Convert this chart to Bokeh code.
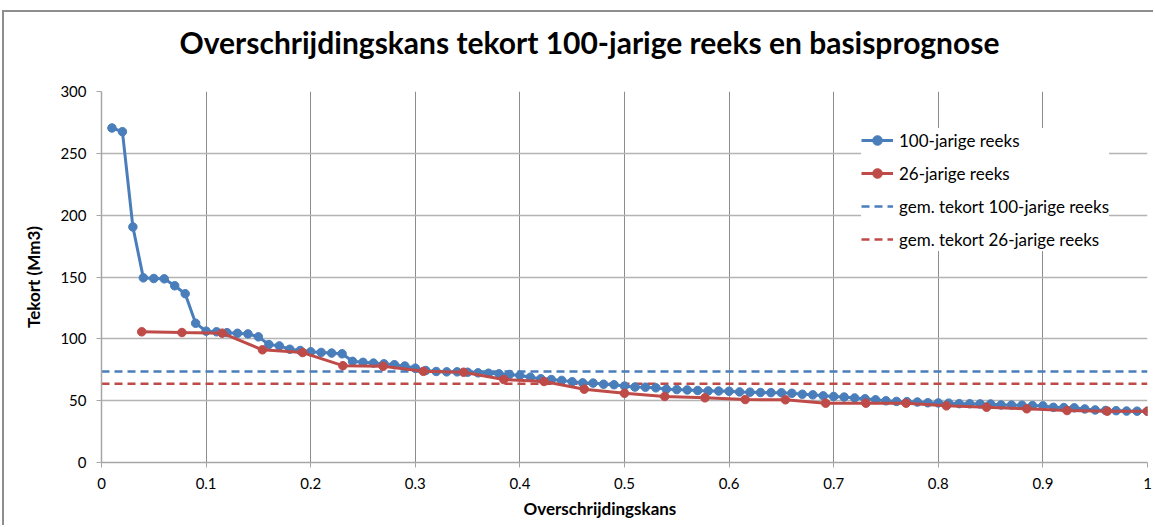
from bokeh.plotting import figure
from bokeh.models import Range1d, FixedTicker, Legend, LegendItem, Title
from bokeh.embed import file_html
from bokeh.resources import INLINE

# Deficit per exceedance rank, sorted from largest to smallest (Mm3)
tekort_100 = [
    270.5, 267.5, 190.5, 149.3, 148.8, 148.5, 142.9, 136.5, 112.6, 106.2,
    105.7, 105.0, 104.5, 104.0, 101.6, 95.4, 94.3, 91.6, 90.6, 89.5,
    89.0, 88.5, 87.9, 81.8, 81.0, 80.4, 79.8, 79.1, 78.0, 76.3,
    74.4, 73.6, 73.3, 73.3, 73.0, 72.5, 72.2, 71.7, 71.2, 70.4,
    69.0, 67.7, 67.1, 66.4, 65.3, 64.4, 64.2, 63.3, 62.9, 61.8,
    61.0, 60.9, 60.4, 59.3, 59.0, 58.7, 58.2, 57.9, 57.8, 57.6,
    57.1, 56.9, 56.6, 56.5, 56.4, 56.0, 55.2, 54.7, 53.9, 53.4,
    52.9, 52.2, 51.5, 50.7, 49.9, 49.4, 49.2, 48.9, 48.3, 48.2,
    48.0, 47.6, 47.5, 47.4, 47.3, 46.5, 46.4, 46.3, 46.0, 45.8,
    44.6, 44.4, 44.2, 43.3, 42.5, 42.1, 41.9, 41.6, 41.5, 41.5,
]
tekort_26 = [
    105.7, 105.1, 104.6, 91.1, 88.9, 78.3, 77.8, 73.7, 73.0, 67.1,
    65.5, 59.3, 56.0, 53.4, 52.3, 50.9, 50.7, 48.0, 48.0, 48.0,
    45.8, 44.7, 43.4, 42.0, 41.5, 41.5,
]
# Average deficit of each series
gem_100 = 73.5
gem_26 = 63.6

# Exceedance probability = rank / number of years
kans_100 = [(i + 1) / len(tekort_100) for i in range(len(tekort_100))]
kans_26 = [(i + 1) / len(tekort_26) for i in range(len(tekort_26))]

x_ticks = [i / 10 for i in range(11)]
x_tick_labels = ["0", "0.1", "0.2", "0.3", "0.4", "0.5", "0.6", "0.7", "0.8", "0.9", "1"]
y_ticks = [0, 50, 100, 150, 200, 250, 300]

chart_title = "Overschrijdingskans tekort 100-jarige reeks en basisprognose"
x_title = "Overschrijdingskans"
y_title = "Tekort (Mm3)"
series_labels = ["100-jarige reeks", "26-jarige reeks",
                 "gem. tekort 100-jarige reeks", "gem. tekort 26-jarige reeks"]

BLUE = "#4a7ebb"
RED = "#be4b48"
FONT = "Lato"

p = figure(
    width=1151, height=515,
    x_range=Range1d(0, 1), y_range=Range1d(0, 300),
    output_backend="svg", toolbar_location=None,
    min_border_left=97, min_border_right=8,
    min_border_top=79, min_border_bottom=65,
)
p.styles = {
    "margin-left": "2px", "margin-top": "10px",
    "border-left": "2px solid #8e8e8e", "border-top": "2px solid #8e8e8e",
}
p.outline_line_color = None
p.background_fill_color = "white"
p.border_fill_color = "white"

# Axes
p.xaxis.ticker = FixedTicker(ticks=x_ticks)
p.xaxis.major_label_overrides = {t: lab for t, lab in zip(x_ticks, x_tick_labels)}
p.yaxis.ticker = FixedTicker(ticks=y_ticks)
p.xaxis.minor_tick_line_color = None
p.yaxis.minor_tick_line_color = None
for ax in (p.xaxis, p.yaxis):
    ax.axis_line_color = "#a6a6a6"
    ax.axis_line_width = 1.5
    ax.major_tick_line_color = "#a6a6a6"
    ax.major_tick_out = 5
    ax.major_tick_in = 0
    ax.major_label_text_font = FONT
    ax.major_label_text_font_size = "15px"
    ax.major_label_text_color = "black"
p.yaxis.axis_label = y_title
p.yaxis.axis_label_text_font = FONT
p.yaxis.axis_label_text_font_size = "17px"
p.yaxis.axis_label_text_font_style = "bold"
p.yaxis.axis_label_text_color = "black"
p.xaxis.major_label_standoff = 10
p.yaxis.major_label_standoff = 10
p.yaxis.axis_label_standoff = 13

p.xgrid.grid_line_color = "#8c8c8c"
p.xgrid.grid_line_width = 1
p.ygrid.grid_line_color = "#b4b4b4"
p.ygrid.grid_line_width = 1.5

# Gap between the plot frame and the chart title
p.add_layout(Title(text=" ", text_font_size="10px", standoff=19), "above")
# Chart title, shifted left so it sits centred on the whole chart
p.add_layout(Title(
    text=chart_title, align="left", offset=78, standoff=0, vertical_align="bottom",
    text_font=FONT, text_font_size="30px", text_font_style="bold", text_color="black",
), "above")
# x-axis title below the tick labels
p.add_layout(Title(
    text=x_title, align="left", offset=422, standoff=12, vertical_align="top",
    text_font=FONT, text_font_size="17px", text_font_style="bold", text_color="black",
), "below")

# Average lines
r_gem100 = p.line([0, 1], [gem_100, gem_100], line_color=BLUE, line_width=2.5, line_dash="8 5")
r_gem26 = p.line([0, 1], [gem_26, gem_26], line_color=RED, line_width=2.5, line_dash="8 5")

# Sorted deficit series
r_l100 = p.line(kans_100, tekort_100, line_color=BLUE, line_width=3)
r_m100 = p.scatter(kans_100, tekort_100, size=8.5, fill_color=BLUE, line_color=BLUE)
r_l26 = p.line(kans_26, tekort_26, line_color=RED, line_width=3)
r_m26 = p.scatter(kans_26, tekort_26, size=8.5, fill_color=RED, line_color=RED)

legend = Legend(
    items=[
        LegendItem(label=series_labels[0], renderers=[r_l100, r_m100]),
        LegendItem(label=series_labels[1], renderers=[r_l26, r_m26]),
        LegendItem(label=series_labels[2], renderers=[r_gem100]),
        LegendItem(label=series_labels[3], renderers=[r_gem26]),
    ],
    location=(760, 211),
    glyph_width=32, glyph_height=24, label_height=24, spacing=9,
    label_standoff=6, padding=8, margin=0,
    label_text_font=FONT, label_text_font_size="17px", label_text_color="black",
    border_line_color=None, background_fill_color="white", background_fill_alpha=1,
)
p.add_layout(legend, "center")

open("out.html", "w").write(file_html(p, INLINE))
